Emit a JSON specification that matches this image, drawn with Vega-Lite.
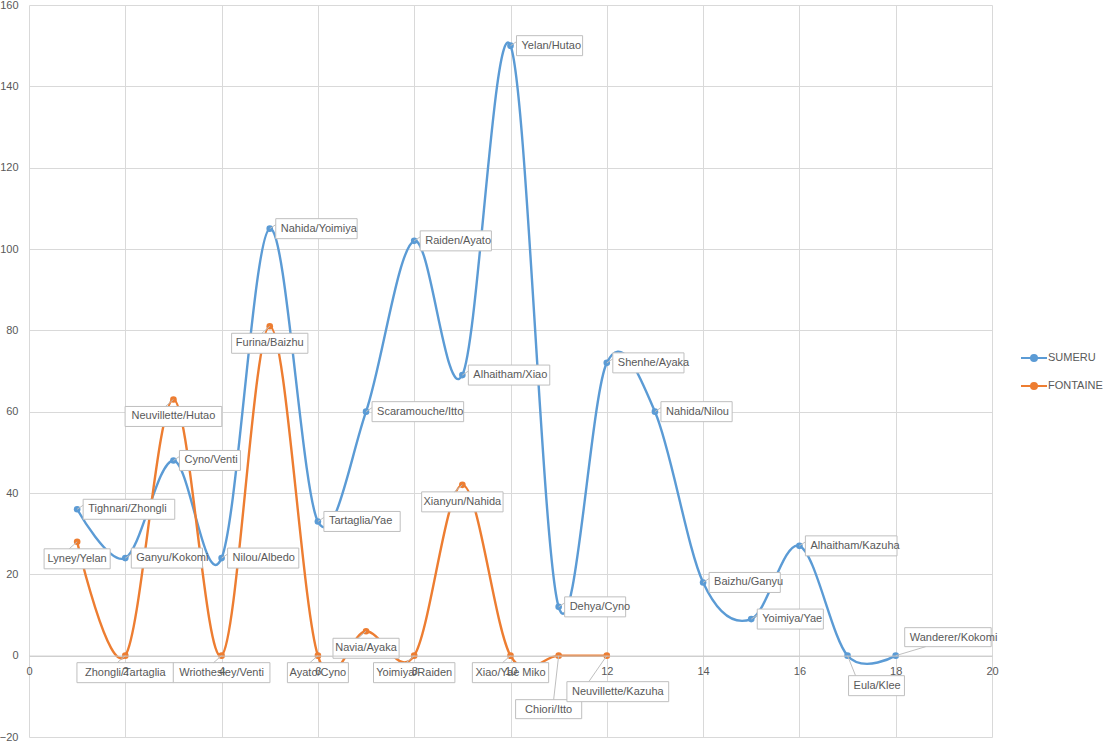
{
  "$schema": "https://vega.github.io/schema/vega-lite/v6.json",
  "width": 963,
  "height": 732,
  "autosize": "none",
  "padding": {"left": 29, "top": 5, "right": 113, "bottom": 12},
  "background": "white",
  "data": {
    "values": [
      {"series": "SUMERU", "x": 1, "y": 36, "label": "Tighnari/Zhongli"},
      {"series": "SUMERU", "x": 2, "y": 24, "label": "Ganyu/Kokomi"},
      {"series": "SUMERU", "x": 3, "y": 48, "label": "Cyno/Venti"},
      {"series": "SUMERU", "x": 4, "y": 24, "label": "Nilou/Albedo"},
      {"series": "SUMERU", "x": 5, "y": 105, "label": "Nahida/Yoimiya"},
      {"series": "SUMERU", "x": 6, "y": 33, "label": "Tartaglia/Yae"},
      {"series": "SUMERU", "x": 7, "y": 60, "label": "Scaramouche/Itto"},
      {"series": "SUMERU", "x": 8, "y": 102, "label": "Raiden/Ayato"},
      {"series": "SUMERU", "x": 9, "y": 69, "label": "Alhaitham/Xiao"},
      {"series": "SUMERU", "x": 10, "y": 150, "label": "Yelan/Hutao"},
      {"series": "SUMERU", "x": 11, "y": 12, "label": "Dehya/Cyno"},
      {"series": "SUMERU", "x": 12, "y": 72, "label": "Shenhe/Ayaka"},
      {"series": "SUMERU", "x": 13, "y": 60, "label": "Nahida/Nilou"},
      {"series": "SUMERU", "x": 14, "y": 18, "label": "Baizhu/Ganyu"},
      {"series": "SUMERU", "x": 15, "y": 9, "label": "Yoimiya/Yae"},
      {"series": "SUMERU", "x": 16, "y": 27, "label": "Alhaitham/Kazuha"},
      {"series": "SUMERU", "x": 17, "y": 0, "label": "Eula/Klee"},
      {"series": "SUMERU", "x": 18, "y": 0, "label": "Wanderer/Kokomi"},
      {"series": "FONTAINE", "x": 1, "y": 28, "label": "Lyney/Yelan"},
      {"series": "FONTAINE", "x": 2, "y": 0, "label": "Zhongli/Tartaglia"},
      {"series": "FONTAINE", "x": 3, "y": 63, "label": "Neuvillette/Hutao"},
      {"series": "FONTAINE", "x": 4, "y": 0, "label": "Wriothesley/Venti"},
      {"series": "FONTAINE", "x": 5, "y": 81, "label": "Furina/Baizhu"},
      {"series": "FONTAINE", "x": 6, "y": 0, "label": "Ayato/Cyno"},
      {"series": "FONTAINE", "x": 7, "y": 6, "label": "Navia/Ayaka"},
      {"series": "FONTAINE", "x": 8, "y": 0, "label": "Yoimiya/Raiden"},
      {"series": "FONTAINE", "x": 9, "y": 42, "label": "Xianyun/Nahida"},
      {"series": "FONTAINE", "x": 10, "y": 0, "label": "Xiao/Yae Miko"},
      {"series": "FONTAINE", "x": 11, "y": 0, "label": "Chiori/Itto"},
      {"series": "FONTAINE", "x": 12, "y": 0, "label": "Neuvillette/Kazuha"}
    ]
  },
  "encoding": {
    "x": {
      "field": "x",
      "type": "quantitative",
      "scale": {"domain": [0, 20], "nice": false, "zero": false},
      "axis": null
    },
    "y": {
      "field": "y",
      "type": "quantitative",
      "scale": {"domain": [-20, 160], "nice": false},
      "axis": {
        "values": [-20, 0, 20, 40, 60, 80, 100, 120, 140, 160],
        "title": null,
        "domain": false,
        "ticks": false,
        "tickSize": 0,
        "labelPadding": 11,
        "labelFlush": false,
        "grid": true
      }
    }
  },
  "layer": [
    {
      "mark": {"type": "line", "interpolate": "cardinal", "strokeWidth": 2.4},
      "encoding": {
        "x": {
          "field": "x",
          "type": "quantitative",
          "scale": {"domain": [0, 20], "nice": false, "zero": false},
          "axis": {
            "orient": "top",
            "values": [0, 2, 4, 6, 8, 10, 12, 14, 16, 18, 20],
            "grid": true,
            "labels": false,
            "domain": false,
            "ticks": false,
            "title": null
          }
        },
        "color": {
          "field": "series",
          "type": "nominal",
          "sort": null,
          "scale": {"domain": ["SUMERU", "FONTAINE"], "range": ["#5B9BD5", "#ED7D31"]},
          "legend": {
            "title": null,
            "orient": "none",
            "legendX": 999,
            "legendY": 347,
            "symbolType": "M-2.6,0H2.6M-0.6,0A0.6,0.6,0,1,1,0.6,0A0.6,0.6,0,1,1,-0.6,0Z",
            "symbolSize": 100,
            "symbolStrokeWidth": 2,
            "labelFont": "Liberation Sans",
            "labelFontSize": 11,
            "labelColor": "#595959",
            "labelOffset": 8,
            "rowPadding": 14,
            "encode": {"symbols": {"update": {"fill": {"scale": "color", "field": "value"}}}}
          }
        }
      }
    },
    {
      "mark": {"type": "point", "filled": true, "size": 44, "opacity": 1},
      "encoding": {
        "x": {
          "field": "x",
          "type": "quantitative",
          "scale": {"domain": [0, 20], "nice": false, "zero": false},
          "axis": {
            "orient": "bottom",
            "offset": -81.4,
            "values": [0, 2, 4, 6, 8, 10, 12, 14, 16, 18, 20],
            "grid": false,
            "domain": true,
            "domainColor": "#c8c8c8",
            "ticks": false,
            "tickSize": 0,
            "labelPadding": 10,
            "labelFlush": false,
            "labelOverlap": false,
            "zindex": 1,
            "title": null
          }
        },
        "color": {"field": "series", "type": "nominal", "legend": null}
      }
    },
    {
      "transform": [{"filter": "datum.series == 'SUMERU' && datum.x <= 16"}],
      "mark": {
        "type": "point", "size": 4, "filled": true, "fill": "white", "stroke": "#bfbfbf", "strokeWidth": 1, "opacity": 1,
        "shape": {"expr": "'M0,0L6,-4M6,-10h'+(length(datum.label)*5.1+10)+'v20h'+(-(length(datum.label)*5.1+10))+'z'"}
      }
    },
    {
      "transform": [{"filter": "datum.series == 'FONTAINE' && datum.x <= 10"}],
      "mark": {
        "type": "point", "size": 4, "filled": true, "fill": "white", "stroke": "#bfbfbf", "strokeWidth": 1, "opacity": 1,
        "shape": {"expr": "'M0,0L-8,7M'+(-(length(datum.label)*5.1+10)/2)+',7h'+(length(datum.label)*5.1+10)+'v20h'+(-(length(datum.label)*5.1+10))+'z'"}
      }
    },
    {
      "transform": [{"filter": "datum.label == 'Eula/Klee'"}],
      "mark": {
        "type": "point", "size": 4, "filled": true, "fill": "white", "stroke": "#bfbfbf", "strokeWidth": 1, "opacity": 1,
        "shape": {"expr": "'M0,0L8,20M1,20h'+(length(datum.label)*5.1+10)+'v20h'+(-(length(datum.label)*5.1+10))+'z'"}
      }
    },
    {
      "transform": [{"filter": "datum.label == 'Wanderer/Kokomi'"}],
      "mark": {
        "type": "point", "size": 4, "filled": true, "fill": "white", "stroke": "#bfbfbf", "strokeWidth": 1, "opacity": 1,
        "shape": {"expr": "'M0,0L30,-9M9,-28h'+(length(datum.label)*5.1+10)+'v19h'+(-(length(datum.label)*5.1+10))+'z'"}
      }
    },
    {
      "transform": [{"filter": "datum.label == 'Chiori/Itto'"}],
      "mark": {
        "type": "point", "size": 4, "filled": true, "fill": "white", "stroke": "#bfbfbf", "strokeWidth": 1, "opacity": 1,
        "shape": {"expr": "'M0,0L-5,44M'+(-10-(length(datum.label)*5.1+10)/2)+',44h'+(length(datum.label)*5.1+10)+'v19h'+(-(length(datum.label)*5.1+10))+'z'"}
      }
    },
    {
      "transform": [{"filter": "datum.label == 'Neuvillette/Kazuha'"}],
      "mark": {
        "type": "point", "size": 4, "filled": true, "fill": "white", "stroke": "#bfbfbf", "strokeWidth": 1, "opacity": 1,
        "shape": {"expr": "'M0,0L-18,26M'+(11-(length(datum.label)*5.1+10)/2)+',26h'+(length(datum.label)*5.1+10)+'v20h'+(-(length(datum.label)*5.1+10))+'z'"}
      }
    },
    {
      "transform": [{"filter": "datum.series == 'SUMERU' && datum.x <= 16"}],
      "mark": {"type": "text", "align": "left", "baseline": "middle", "dx": 11, "dy": 0},
      "encoding": {"text": {"field": "label"}}
    },
    {
      "transform": [{"filter": "datum.series == 'FONTAINE' && datum.x <= 10"}],
      "mark": {"type": "text", "align": "center", "baseline": "middle", "dx": 0, "dy": 17},
      "encoding": {"text": {"field": "label"}}
    },
    {
      "transform": [{"filter": "datum.label == 'Eula/Klee'"}],
      "mark": {"type": "text", "align": "left", "baseline": "middle", "dx": 6, "dy": 30},
      "encoding": {"text": {"field": "label"}}
    },
    {
      "transform": [{"filter": "datum.label == 'Wanderer/Kokomi'"}],
      "mark": {"type": "text", "align": "left", "baseline": "middle", "dx": 14, "dy": -18},
      "encoding": {"text": {"field": "label"}}
    },
    {
      "transform": [{"filter": "datum.label == 'Chiori/Itto'"}],
      "mark": {"type": "text", "align": "center", "baseline": "middle", "dx": -10, "dy": 54},
      "encoding": {"text": {"field": "label"}}
    },
    {
      "transform": [{"filter": "datum.label == 'Neuvillette/Kazuha'"}],
      "mark": {"type": "text", "align": "center", "baseline": "middle", "dx": 11, "dy": 36},
      "encoding": {"text": {"field": "label"}}
    }
  ],
  "resolve": {"scale": {"x": "shared"}, "axis": {"x": "independent"}},
  "config": {
    "view": {"stroke": null},
    "axis": {
      "gridColor": "#d9d9d9",
      "gridWidth": 1,
      "labelColor": "#595959",
      "labelFont": "Liberation Sans",
      "labelFontSize": 11
    },
    "text": {"font": "Liberation Sans", "fontSize": 11, "color": "#595959"}
  }
}
